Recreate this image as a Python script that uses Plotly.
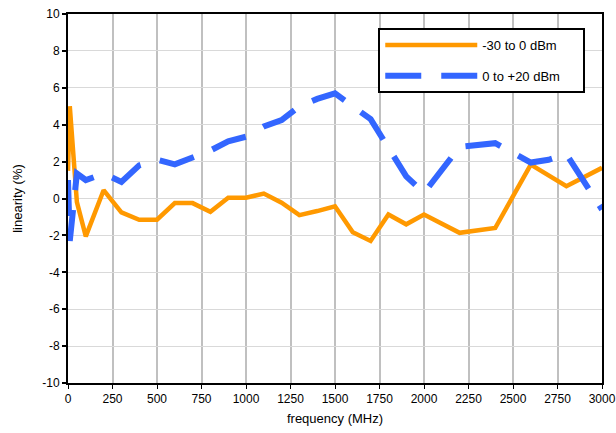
import plotly.graph_objects as go

freq_lo = [0, 10, 50, 100, 200, 300, 400, 500, 600, 700, 800, 900, 1000, 1100, 1200,
           1300, 1400, 1500, 1600, 1700, 1800, 1900, 2000, 2200, 2400, 2600, 2800, 3000]
lin_lo = [1.5, 5.0, -0.2, -2.05, 0.45, -0.75, -1.15, -1.15, -0.25, -0.25, -0.72, 0.04, 0.04,
          0.27, -0.23, -0.9, -0.68, -0.42, -1.83, -2.3, -0.87, -1.4, -0.87, -1.86, -1.6,
          1.84, 0.67, 1.66]

freq_hi = [0, 10, 50, 100, 200, 300, 400, 500, 600, 700, 800, 900, 1000, 1100, 1200,
           1300, 1400, 1500, 1600, 1700, 1900, 2000, 2200, 2400, 2600, 2700, 2800, 3000]
lin_hi = [1.0, -2.3, 1.35, 1.0, 1.35, 0.9, 1.8, 2.1, 1.85, 2.2, 2.6, 3.1, 3.35, 3.9, 4.25,
          5.0, 5.4, 5.7, 5.0, 4.3, 1.2, 0.3, 2.8, 3.0, 1.95, 2.1, 2.4, -0.6]

x_ticks = [0, 250, 500, 750, 1000, 1250, 1500, 1750, 2000, 2250, 2500, 2750, 3000]
y_ticks = [-10, -8, -6, -4, -2, 0, 2, 4, 6, 8, 10]

pad = "\u00a0" * 5
fig = go.Figure()
fig.add_trace(go.Scatter(x=freq_lo, y=lin_lo, mode="lines", name="-30 to 0 dBm" + pad,
                         line=dict(color="#FF9900", width=4.5), legendgroup="a"))
fig.add_trace(go.Scatter(x=freq_hi, y=lin_hi, mode="lines", name="0 to +20 dBm" + pad,
                         line=dict(color="#3366FF", width=6, dash="36px,20px"), legendgroup="b"))

font = "Liberation Sans, Arial, sans-serif"
fig.update_layout(
    width=616, height=433,
    margin=dict(l=68, r=14, t=14, b=50, autoexpand=False),
    paper_bgcolor="white", plot_bgcolor="white",
    font=dict(family=font, size=12, color="black"),
    showlegend=True,
    legend=dict(x=0.581, y=0.962, xanchor="left", yanchor="top",
                bgcolor="white", bordercolor="black", borderwidth=2,
                font=dict(family=font, size=13, color="black"),
                itemwidth=92, tracegroupgap=11, traceorder="grouped"),
    xaxis=dict(range=[0, 3000], tickvals=x_ticks, ticktext=[str(v) for v in x_ticks],
               showgrid=True, gridcolor="#c0c0c0", gridwidth=2, automargin=False,
               showline=True, linecolor="black", linewidth=2, mirror=True,
               ticks="outside", ticklen=4, tickcolor="black", tickwidth=1,
               zeroline=False,
               title=dict(text="frequency (MHz)", font=dict(size=13), standoff=8)),
    yaxis=dict(range=[-10, 10], tickvals=y_ticks, ticktext=[str(v) for v in y_ticks],
               showgrid=True, gridcolor="#d9d9d9", gridwidth=1, automargin=False,
               showline=True, linecolor="black", linewidth=2, mirror=True,
               ticks="outside", ticklen=4, tickcolor="black", tickwidth=2,
               zeroline=False,
               title=dict(text="linearity (%)", font=dict(size=13), standoff=17)),
)

fig.write_html("out.html", config={"displayModeBar": False})
with open("out.html", "r", encoding="utf-8") as f:
    html = f.read()
html = html.replace("<head>", "<head><style>html,body{margin:0;padding:0;overflow:hidden;}</style>", 1)
with open("out.html", "w", encoding="utf-8") as f:
    f.write(html)
